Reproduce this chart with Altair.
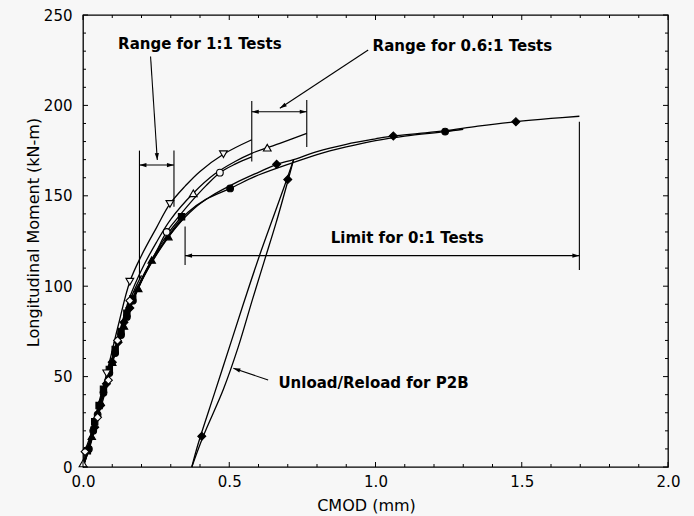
import math
import altair as alt
import pandas as pd

# ---------------- layout constants ----------------
W, H = 585, 452
BG = "#f7f7f7"
FONT = "DejaVu Sans"

X_DOMAIN = [0.0, 2.0]
Y_DOMAIN = [0, 250]

x_major = [0.0, 0.5, 1.0, 1.5, 2.0]
x_minor = [0.1, 0.2, 0.3, 0.4, 0.6, 0.7, 0.8, 0.9, 1.1, 1.2, 1.3, 1.4, 1.6, 1.7, 1.8, 1.9]
y_major = [0, 50, 100, 150, 200, 250]
y_minor = [10, 20, 30, 40, 60, 70, 80, 90, 110, 120, 130, 140, 160, 170, 180, 190,
           210, 220, 230, 240]

# ---------------- curves (CMOD mm, moment kN-m) ----------------
tdown_x = [0.0, 0.02, 0.05, 0.081, 0.12, 0.16, 0.2, 0.25, 0.297, 0.35, 0.40, 0.48, 0.577]
tdown_y = [0.0, 13, 33, 51.8, 78, 102.5, 117, 132, 145.5, 155.5, 163.5, 173, 181]
tdown_mx = [0.081, 0.16, 0.297, 0.48]
tdown_my = [51.8, 102.5, 145.5, 173]

tup_x = [0.0, 0.02, 0.05, 0.08, 0.12, 0.16, 0.2, 0.25, 0.30, 0.377, 0.45, 0.52, 0.577, 0.63, 0.673, 0.765]
tup_y = [2, 12, 31, 49, 72, 94, 109, 124, 137, 151.4, 162, 169, 173.5, 176.6, 179, 184.5]
tup_mx = [0.0, 0.377, 0.63]
tup_my = [2, 151.4, 176.6]

circ_x = [0.0, 0.02, 0.05, 0.08, 0.12, 0.16, 0.2, 0.25, 0.286, 0.33, 0.377, 0.42, 0.468, 0.52, 0.577]
circ_y = [0, 10, 29, 47, 70, 90, 104, 119, 130, 139, 148, 155.5, 162.8, 167.5, 171.5]
circ_mx = [0.286, 0.468]
circ_my = [130, 162.8]

diam_x = [0.0, 0.007, 0.05, 0.087, 0.118, 0.16, 0.2]
diam_y = [0, 8.5, 27.5, 48, 70, 92, 106]
diam_mx = [0.007, 0.05, 0.087, 0.118, 0.16]
diam_my = [8.5, 27.5, 48, 70, 92]

ftri_x = [0.0, 0.03, 0.06, 0.10, 0.14, 0.189, 0.235, 0.292, 0.34]
ftri_y = [0, 17, 36, 58, 78, 98.8, 114.5, 127.4, 137]
ftri_mx = [0.03, 0.06, 0.10, 0.14, 0.189, 0.235, 0.292]
ftri_my = [17, 36, 58, 78, 98.8, 114.5, 127.4]

fsq_x = [0.0, 0.015, 0.04, 0.07, 0.11, 0.15, 0.19, 0.24, 0.29, 0.337]
fsq_y = [0, 9, 25, 43, 65, 85, 100, 116, 129, 138.4]
fsq_mx = [0.015, 0.04, 0.055, 0.07, 0.09, 0.11, 0.13, 0.15, 0.17, 0.337]
fsq_my = [9, 25, 34, 43, 54, 65, 75, 85, 93, 138.4]

fcirc_x = [0.0, 0.02, 0.05, 0.09, 0.13, 0.17, 0.21, 0.26, 0.31, 0.36, 0.42, 0.503, 0.6, 0.72,
           0.8, 0.9, 1.0, 1.1, 1.238, 1.3]
fcirc_y = [0, 10, 29, 52, 73, 92, 106, 120, 132, 141, 148, 154.1, 161.5, 168.5,
           172.8, 177, 180.5, 183, 185.5, 186.8]
fcirc_mx = [0.02, 0.035, 0.05, 0.07, 0.09, 0.11, 0.13, 0.15, 0.17, 0.503, 1.238]
fcirc_my = [10, 20, 29, 41, 52, 63, 73, 83, 92, 154.1, 185.5]

p2b_x = [0.0, 0.025, 0.06, 0.10, 0.14, 0.18, 0.22, 0.27, 0.32, 0.38, 0.44, 0.52, 0.6, 0.662, 0.72,
         0.8, 0.9, 1.0, 1.061, 1.15, 1.238, 1.35, 1.48, 1.6, 1.697]
p2b_y = [0, 12, 34, 58, 80, 96, 109, 122, 133, 143, 150, 157, 163, 167.4, 170,
         174.5, 178.5, 181.5, 183.1, 184.5, 186, 188.5, 191, 192.8, 194]
unload_x = [0.72, 0.69, 0.65, 0.61, 0.56, 0.51, 0.45, 0.394, 0.372]
unload_y = [170, 156, 138, 120, 96, 71, 41, 13, 0]
reload_x = [0.372, 0.411, 0.48, 0.53, 0.58, 0.62, 0.66, 0.70, 0.72]
reload_y = [0, 17, 43, 66, 93, 114, 135, 158, 170]
p2b_mx = [0.04, 0.06, 0.08, 0.10, 0.12, 0.14, 0.16, 0.662, 1.061, 1.48, 0.70, 0.406]
p2b_my = [22, 34, 46, 58, 69, 80, 88, 167.4, 183.1, 191, 159, 17]

# ---------------- annotations ----------------
ann_text = ["Range for 1:1 Tests", "Range for 0.6:1 Tests", "Limit for 0:1 Tests", "Unload/Reload for P2B"]
ann_x = [0.12, 0.990, 0.847, 0.668]
ann_y = [234.2, 232.6, 126.5, 46.3]

# bracket verticals (x, y_top, y_bottom)
bracket_x = [0.193, 0.311, 0.577, 0.765, 0.349, 1.697]
bracket_top = [175, 175, 202.4, 203, 133, 191]
bracket_bot = [104, 144, 169, 177, 111.7, 109]

# double arrows (x_left, x_right, y)
span_x1 = [0.193, 0.577, 0.349]
span_x2 = [0.311, 0.765, 1.697]
span_y = [167, 196.5, 116.9]

# pointer arrows (from -> to)
ptr_x1 = [0.231, 0.975, 0.633]
ptr_y1 = [227, 230.6, 48.1]
ptr_x2 = [0.254, 0.673, 0.514]
ptr_y2 = [169.8, 198.4, 54.6]

# ---------------- build tables ----------------
xs = alt.Scale(domain=X_DOMAIN, nice=False, zero=False)
ys = alt.Scale(domain=Y_DOMAIN, nice=False)


def line_df(name, xv, yv):
    return pd.DataFrame({"series": name, "i": list(range(len(xv))), "x": xv, "y": yv})


lines = pd.concat([
    line_df("tdown", tdown_x, tdown_y),
    line_df("tup", tup_x, tup_y),
    line_df("circ", circ_x, circ_y),
    line_df("diam", diam_x, diam_y),
    line_df("ftri", ftri_x, ftri_y),
    line_df("fsq", fsq_x, fsq_y),
    line_df("fcirc", fcirc_x, fcirc_y),
    line_df("p2b", p2b_x, p2b_y),
    line_df("unload", unload_x, unload_y),
    line_df("reload", reload_x, reload_y),
], ignore_index=True)

X_AXIS = alt.Axis(values=x_major, format=".1f", ticks=False, domain=False, grid=False,
                  labelFont=FONT, labelFontSize=15, labelColor="black", labelPadding=7,
                  labelFlush=False, labelOverlap=False,
                  title="CMOD (mm)", titleFont=FONT, titleFontSize=16, titleFontWeight="normal",
                  titleColor="black", titleX=283, titleY=38.5, titleBaseline="middle",
                  titleAlign="center")
Y_AXIS = alt.Axis(values=y_major, format="d", ticks=False, domain=False, grid=False,
                  labelFont=FONT, labelFontSize=15, labelColor="black", labelPadding=11,
                  labelFlush=False, labelOverlap=False,
                  title="Longitudinal Moment (kN-m)", titleFont=FONT, titleFontSize=16,
                  titleFontWeight="normal", titleColor="black", titleX=-50, titleY=217,
                  titleBaseline="middle", titleAlign="center", titleAngle=270)

XE = alt.X("x:Q", scale=xs, axis=X_AXIS)
YE = alt.Y("y:Q", scale=ys, axis=Y_AXIS)

curves = alt.Chart(lines).mark_line(color="black", strokeWidth=1.3, interpolate="catmull-rom").encode(
    x=XE, y=YE, detail="series:N", order="i:Q",
)


def marker_layer(mx, my, shape, fill, size):
    df = pd.DataFrame({"x": mx, "y": my})
    return alt.Chart(df).mark_point(shape=shape, filled=True, fill=fill, stroke="black",
                                    strokeWidth=1.1, size=size, opacity=1).encode(x=XE, y=YE)


markers = [
    marker_layer(fsq_mx, fsq_my, "square", "black", 40),
    marker_layer(ftri_mx, ftri_my, "triangle-up", "black", 55),
    marker_layer(fcirc_mx, fcirc_my, "circle", "black", 45),
    marker_layer(p2b_mx, p2b_my, "diamond", "black", 64),
    marker_layer(diam_mx, diam_my, "diamond", BG, 60),
    marker_layer(circ_mx, circ_my, "circle", BG, 45),
    marker_layer(tup_mx, tup_my, "triangle-up", BG, 60),
    marker_layer(tdown_mx, tdown_my, "triangle-down", BG, 60),
]

# annotation rule segments
seg = pd.DataFrame({
    "x": bracket_x + span_x1 + ptr_x1,
    "y": bracket_top + span_y + ptr_y1,
    "x2": bracket_x + span_x2 + ptr_x2,
    "y2": bracket_bot + span_y + ptr_y2,
})
segments = alt.Chart(seg).mark_rule(color="black", strokeWidth=1.1).encode(
    x=XE, y=YE, x2="x2:Q", y2="y2:Q")

# arrowheads
sx = W / (X_DOMAIN[1] - X_DOMAIN[0])
sy = H / (Y_DOMAIN[1] - Y_DOMAIN[0])


def heading(x1, y1, x2, y2):
    dx = (x2 - x1) * sx
    dy = -(y2 - y1) * sy
    return math.degrees(math.atan2(dx, -dy)) % 360


head_x, head_y, head_a = [], [], []
for a, b, yy in zip(span_x1, span_x2, span_y):
    head_x += [a, b]
    head_y += [yy, yy]
    head_a += [heading(b, yy, a, yy), heading(a, yy, b, yy)]
for a1, b1, a2, b2 in zip(ptr_x1, ptr_y1, ptr_x2, ptr_y2):
    head_x.append(a2)
    head_y.append(b2)
    head_a.append(heading(a1, b1, a2, b2))

heads = alt.Chart(pd.DataFrame({"x": head_x, "y": head_y, "angle": head_a})).mark_point(
    shape="M0,0L0.6,2L-0.6,2Z", filled=True, color="black", size=49, opacity=1
).encode(x=XE, y=YE, angle=alt.Angle("angle:Q", scale=None))

labels = alt.Chart(pd.DataFrame({"x": ann_x, "y": ann_y, "t": ann_text})).mark_text(
    align="left", baseline="middle", font=FONT, fontWeight="bold", fontSize=15, color="black"
).encode(x=XE, y=YE, text="t:N")

# inward ticks on all four sides
xt = pd.DataFrame({"x": x_major + x_minor, "len": [5] * len(x_major) + [3] * len(x_minor)})
yt = pd.DataFrame({"y": y_major + y_minor, "len": [5] * len(y_major) + [3] * len(y_minor)})


def xticks(df, length, top):
    d = df[df["len"] == length]
    if top:
        return alt.Chart(d).mark_rule(color="black", strokeWidth=1).encode(
            x=XE, y=alt.value(0), y2=alt.value(length))
    return alt.Chart(d).mark_rule(color="black", strokeWidth=1).encode(
        x=XE, y=alt.value(H), y2=alt.value(H - length))


def yticks(df, length, right):
    d = df[df["len"] == length]
    if right:
        return alt.Chart(d).mark_rule(color="black", strokeWidth=1).encode(
            y=YE, x=alt.value(W), x2=alt.value(W - length))
    return alt.Chart(d).mark_rule(color="black", strokeWidth=1).encode(
        y=YE, x=alt.value(0), x2=alt.value(length))


tick_layers = []
for L in (5, 3):
    tick_layers += [xticks(xt, L, False), xticks(xt, L, True), yticks(yt, L, False), yticks(yt, L, True)]

chart = alt.layer(curves, segments, heads, *markers, labels, *tick_layers).properties(
    width=W, height=H,
    autosize=alt.AutoSizeParams(type="none"),
    padding={"left": 83, "top": 15, "right": 26, "bottom": 49},
    background=BG,
).configure_view(stroke="black", strokeWidth=1.3)

chart.save("out.html", embed_options={"renderer": "svg", "actions": False})
